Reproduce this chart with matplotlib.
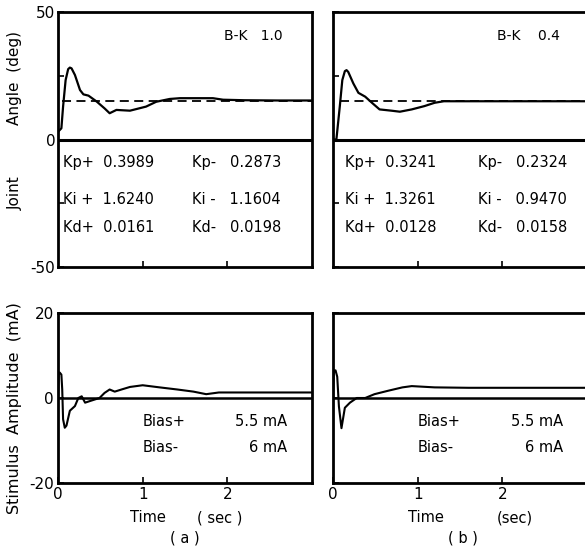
import matplotlib
matplotlib.use("Agg")
import matplotlib.pyplot as plt

plt.rcParams['font.family'] = ['DejaVu Sans']

# ---- data ----
angle_a_t = [0, 0.04, 0.06, 0.09, 0.12, 0.14, 0.16, 0.2, 0.26, 0.3, 0.36, 0.46, 0.55, 0.61,
             0.69, 0.85, 1.04, 1.16, 1.32, 1.44, 1.6, 1.83, 1.95, 2.2, 2.6, 3.0]
angle_a = [3, 4.4, 12.9, 23.3, 27.6, 28.2, 27.9, 25.3, 19.4, 17.7, 17.2, 14.8, 12.2, 10.3,
           11.6, 11.3, 12.9, 14.8, 15.9, 16.2, 16.2, 16.2, 15.6, 15.4, 15.3, 15.3]

angle_b_t = [0, 0.04, 0.08, 0.11, 0.14, 0.16, 0.18, 0.24, 0.3, 0.38, 0.46, 0.55, 0.69, 0.79,
             0.93, 1.08, 1.2, 1.31, 1.6, 2.0, 2.5, 3.0]
angle_b = [0, 0, 12.9, 23.3, 26.8, 27.2, 26.5, 22.0, 18.3, 16.8, 14.4, 11.8, 11.3, 10.9,
           11.8, 13.1, 14.4, 15.0, 15.0, 15.0, 15.0, 15.0]

stim_a_t = [0, 0.01, 0.02, 0.04, 0.05, 0.06, 0.08, 0.1, 0.14, 0.2, 0.24, 0.28, 0.32,
            0.38, 0.49, 0.55, 0.61, 0.67, 0.75, 0.85, 1.0, 1.2, 1.41, 1.6, 1.75, 1.9, 2.2, 3.0]
stim_a = [0, 6.0, 6.0, 5.5, 2.0, -5.0, -7.0, -6.5, -3.0, -1.9, 0, 0.4, -1.1,
          -0.7, 0, 1.2, 2.0, 1.5, 2.0, 2.6, 3.0, 2.5, 2.0, 1.5, 0.9, 1.3, 1.3, 1.3]

stim_b_t = [0, 0.01, 0.03, 0.05, 0.07, 0.1, 0.14, 0.2, 0.28, 0.38, 0.49, 0.65, 0.82,
            0.93, 1.2, 1.6, 2.0, 2.5, 3.0]
stim_b = [0, 6.5, 6.5, 5.0, -2.0, -7.1, -2.3, -1.1, 0, 0, 0.9, 1.7, 2.5,
          2.8, 2.5, 2.4, 2.4, 2.4, 2.4]

ref_angle = 15
bk_labels = ["B-K   1.0", "B-K    0.4"]
gains_plus = [["Kp+  0.3989", "Ki +  1.6240", "Kd+  0.0161"],
              ["Kp+  0.3241", "Ki +  1.3261", "Kd+  0.0128"]]
gains_minus = [["Kp-   0.2873", "Ki -   1.1604", "Kd-   0.0198"],
               ["Kp-   0.2324", "Ki -   0.9470", "Kd-   0.0158"]]
bias_names = ["Bias+", "Bias-"]
bias_vals = ["5.5 mA", "6 mA"]
panel_labels = ["( a )", "( b )"]

W, H = 585, 555
fig = plt.figure(figsize=(W / 100, H / 100), dpi=100)


def rect(x0, y0, x1, y1):
    return [x0 / W, 1 - y1 / H, (x1 - x0) / W, (y1 - y0) / H]


lw_sp = 2.0
axes_top = [fig.add_axes(rect(58, 12, 312, 267)), fig.add_axes(rect(333, 12, 587, 267))]
axes_bot = [fig.add_axes(rect(58, 313, 312, 483)), fig.add_axes(rect(333, 313, 587, 483))]

angle_t = [angle_a_t, angle_b_t]
angle_v = [angle_a, angle_b]
stim_t = [stim_a_t, stim_b_t]
stim_v = [stim_a, stim_b]
dash_start = [0.05, 0.08]

for i in range(2):
    ax = axes_top[i]
    ax.set_xlim(0, 3)
    ax.set_ylim(-50, 50)
    ax.axhline(0, color='black', lw=2.2)
    ax.hlines(ref_angle, dash_start[i], 3, colors='black', lw=1.3, linestyles=(0, (5, 3)))
    ax.plot(angle_t[i], angle_v[i], color='black', lw=1.6, solid_joinstyle='round')
    ax.set_xticks([1, 2])
    ax.set_xticklabels([])
    ax.set_yticks([-50, -25, 0, 25, 50])
    if i == 0:
        ax.set_yticklabels(['-50', '', '0', '', '50'])
    else:
        ax.set_yticklabels([])
    ax.tick_params(direction='in', length=4, width=1.2, labelsize=11, pad=2)
    for s in ax.spines.values():
        s.set_linewidth(lw_sp)
    ax.text(0.655 if i == 0 else 0.645, 0.905, bk_labels[i], transform=ax.transAxes,
            fontsize=10, ha='left', va='center')
    ys = [163, 199, 228]
    x_plus = 63 if i == 0 else 345
    x_minus = 192 if i == 0 else 478
    for k in range(3):
        fig.text(x_plus / W, 1 - ys[k] / H, gains_plus[i][k], fontsize=10.5,
                 ha='left', va='center')
        fig.text(x_minus / W, 1 - ys[k] / H, gains_minus[i][k], fontsize=10.5,
                 ha='left', va='center')

    bx = axes_bot[i]
    bx.set_xlim(0, 3)
    bx.set_ylim(-20, 20)
    bx.axhline(0, color='black', lw=1.8)
    bx.plot(stim_t[i], stim_v[i], color='black', lw=1.5, solid_joinstyle='round')
    bx.set_xticks([0, 1, 2])
    bx.set_xticklabels(['0', '1', '2'])
    bx.set_yticks([-20, 0, 20])
    if i == 0:
        bx.set_yticklabels(['-20', '0', '20'])
    else:
        bx.set_yticklabels([])
    bx.tick_params(direction='in', length=4, width=1.2, labelsize=11, pad=3)
    for s in bx.spines.values():
        s.set_linewidth(lw_sp)
    xb = 143 if i == 0 else 418
    xr = 287 if i == 0 else 563
    for k, yy in enumerate([422, 447]):
        fig.text(xb / W, 1 - yy / H, bias_names[k], fontsize=10.5, ha='left', va='center')
        fig.text(xr / W, 1 - yy / H, bias_vals[k], fontsize=10.5, ha='right', va='center')

    xt = 148 if i == 0 else 426
    xs = 220 if i == 0 else 515
    xp = 185 if i == 0 else 463
    fig.text(xt / W, 1 - 518 / H, "Time", fontsize=10.5, ha='center', va='center')
    fig.text(xs / W, 1 - 518 / H, "( sec )" if i == 0 else "(sec)", fontsize=10.5,
             ha='center', va='center')
    fig.text(xp / W, 1 - 538 / H, panel_labels[i], fontsize=10.5, ha='center', va='center')

fig.text(15 / W, 1 - 78 / H, "Angle  (deg)", rotation=90, fontsize=11, ha='center', va='center')
fig.text(15 / W, 1 - 193 / H, "Joint", rotation=90, fontsize=11, ha='center', va='center')
fig.text(15 / W, 1 - 408 / H, "Stimulus  Amplitude  (mA)", rotation=90, fontsize=11.5,
         ha='center', va='center')

fig.savefig("out.png", dpi=100)
